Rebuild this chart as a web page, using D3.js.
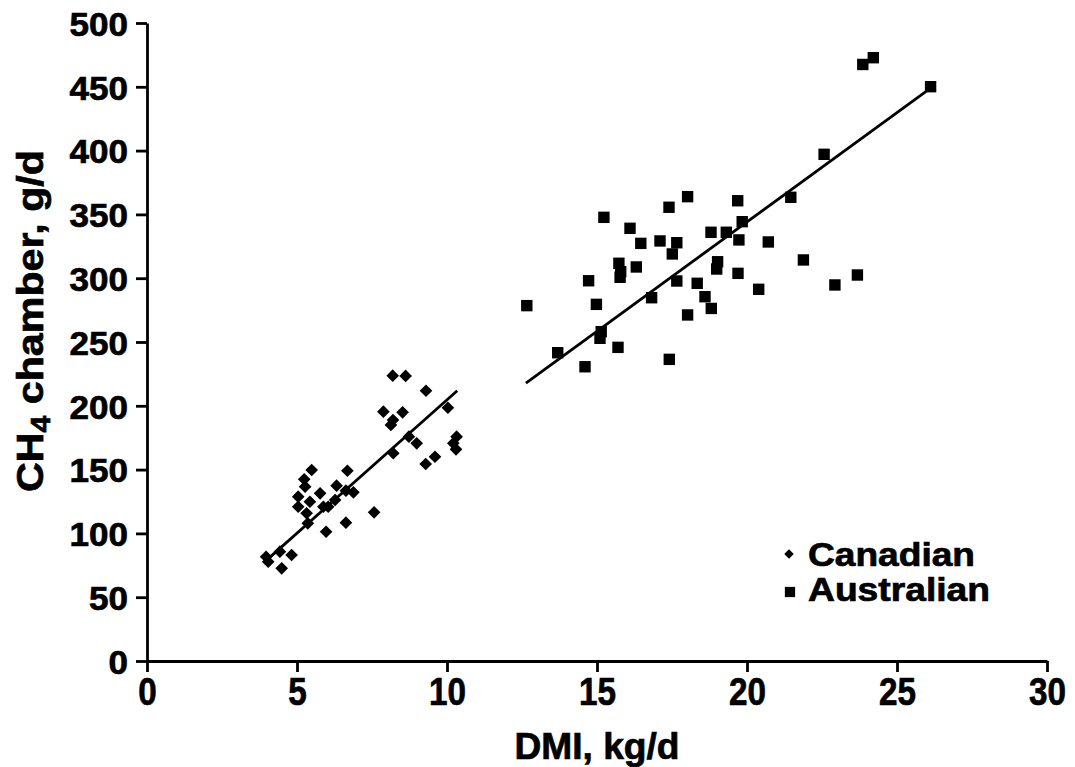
<!DOCTYPE html>
<html>
<head>
<meta charset="utf-8">
<script src="https://cdn.jsdelivr.net/npm/d3@7"></script>
<style>
  body { margin: 0; background: #fff; }
  svg text { font-family: "Liberation Sans", Arial, sans-serif; font-weight: bold; fill: #000; stroke: #000; stroke-width: 0.7px; }
</style>
</head>
<body>
<script>
// Canadian cattle: DMI (kg/d), CH4 (g/d)
var canDMI = [8.19, 8.62, 9.30, 10.03, 7.88, 8.52, 8.20, 8.13, 8.73, 8.99, 10.32, 10.21, 10.30, 8.21, 9.60, 9.29,
  5.49, 6.68, 5.24, 5.27, 6.32, 5.77, 5.04, 6.63, 6.88, 5.43, 6.27, 5.88, 6.04, 5.04, 5.32, 5.36, 7.57, 6.63, 5.97,
  4.43, 4.82, 3.97, 4.04, 4.49];
var canCH4 = [223.6, 223.4, 211.8, 198.5, 195.4, 194.9, 188.9, 185.0, 175.8, 170.6, 175.8, 170.6, 165.9, 162.8, 160.1, 154.4,
  149.7, 149.1, 142.4, 136.6, 137.4, 131.4, 128.8, 133.5, 132.2, 124.8, 126.2, 120.9, 120.9, 120.9, 115.8, 107.9, 116.5, 108.4, 101.3,
  85.7, 83.1, 81.7, 77.8, 72.6];

// Australian cattle
var ausDMI = [12.66, 15.23, 16.10, 16.46, 17.10, 17.40, 18.02, 17.66, 17.51, 15.73, 15.79, 15.77, 16.31, 14.72, 14.98,
  16.82, 17.66, 18.34, 18.60, 18.81, 18.02, 18.80, 19.31, 19.69, 19.84, 19.73, 19.02, 18.99, 19.70, 20.71, 20.39,
  21.46, 15.14, 15.10, 13.69, 14.60, 15.70, 17.41, 21.88, 24.21, 23.86, 26.12, 22.57, 23.68, 22.93];
var ausCH4 = [278.5, 347.7, 339.1, 327.3, 329.2, 355.6, 363.9, 327.8, 319.0, 311.7, 305.1, 300.7, 308.8, 298.0, 279.5,
  284.7, 297.8, 296.0, 285.5, 276.3, 271.2, 336.0, 336.0, 360.7, 344.3, 330.0, 312.9, 307.2, 303.8, 328.4, 291.3,
  363.4, 258.1, 252.9, 241.6, 230.6, 245.8, 236.4, 314.3, 472.8, 467.5, 450.1, 397.1, 302.5, 294.7];

// linear fits [slope, intercept, xmin, xmax]
var canFit = [20.9, -4.3, 3.99, 10.34];
var ausFit = [17.13, 1.5, 12.63, 26.12];

var xTicks = [0, 5, 10, 15, 20, 25, 30];
var yTicks = [0, 50, 100, 150, 200, 250, 300, 350, 400, 450, 500];
var seriesNames = ["Canadian", "Australian"];

var width = 1075,
  height = 767;
var svg = d3.select("body").append("svg").attr("width", width).attr("height", height);

var x = d3.scaleLinear().domain([0, 30]).range([147, 1047]);
var y = d3.scaleLinear().domain([0, 500]).range([661, 23]);

// axes
var xAxis = svg.append("g")
  .attr("transform", "translate(0," + y(0) + ")")
  .call(d3.axisBottom(x).tickValues(xTicks).tickSize(11).tickSizeOuter(0).tickPadding(6));
var yAxis = svg.append("g")
  .attr("transform", "translate(" + x(0) + ",0)")
  .call(d3.axisLeft(y).tickValues(yTicks).tickSize(11).tickSizeOuter(0).tickPadding(8));

svg.selectAll(".domain, .tick line").attr("stroke", "#000").attr("stroke-width", 2.8);
xAxis.selectAll("text")
  .style("font-size", "38px")
  .attr("textLength", d => String(d).length * 18.5)
  .attr("lengthAdjust", "spacingAndGlyphs");
yAxis.selectAll("text")
  .style("font-size", "34px")
  .attr("dy", "0.36em")
  .attr("textLength", d => String(d).length * 19.5)
  .attr("lengthAdjust", "spacingAndGlyphs");

// axis titles
svg.append("text")
  .attr("x", 597)
  .attr("y", 759)
  .attr("text-anchor", "middle")
  .style("font-size", "36px")
  .attr("textLength", 165)
  .attr("lengthAdjust", "spacingAndGlyphs")
  .text("DMI, kg/d");

var yTitle = svg.append("text")
  .attr("text-anchor", "middle")
  .style("font-size", "37px");
yTitle.append("tspan").text("CH");
yTitle.append("tspan").attr("dy", "0.25em").style("font-size", "27px").text("4");
yTitle.append("tspan").attr("dy", "-0.18em").text(" chamber, g/d");
var natural = yTitle.node().getComputedTextLength();
yTitle.attr("transform", "translate(43,321) rotate(-90) scale(" + 342 / natural + ",1)");

// regression lines
[canFit, ausFit].forEach(f => {
  svg.append("line")
    .attr("x1", x(f[2]))
    .attr("y1", y(f[0] * f[2] + f[1]))
    .attr("x2", x(f[3]))
    .attr("y2", y(f[0] * f[3] + f[1]))
    .attr("stroke", "#000")
    .attr("stroke-width", 2.8);
});

// points
var diamond = d3.symbol().type(d3.symbolSquare).size(80);
var square = d3.symbol().type(d3.symbolSquare).size(130);

svg.append("g").selectAll("path")
  .data(canDMI.map((d, i) => [d, canCH4[i]]))
  .enter()
  .append("path")
  .attr("d", diamond)
  .attr("transform", d => "translate(" + x(d[0]) + "," + y(d[1]) + ") rotate(45)")
  .attr("fill", "#000");

svg.append("g").selectAll("path")
  .data(ausDMI.map((d, i) => [d, ausCH4[i]]))
  .enter()
  .append("path")
  .attr("d", square)
  .attr("transform", d => "translate(" + x(d[0]) + "," + y(d[1]) + ")")
  .attr("fill", "#000");

// legend
var legend = svg.append("g").attr("transform", "translate(789,554)");
legend.append("path")
  .attr("d", d3.symbol().type(d3.symbolSquare).size(45))
  .attr("transform", "rotate(45)");
legend.append("path")
  .attr("d", d3.symbol().type(d3.symbolSquare).size(105))
  .attr("transform", "translate(1,38)");
legend.selectAll("text")
  .data(seriesNames)
  .enter()
  .append("text")
  .attr("x", 19)
  .attr("y", (d, i) => 12 + i * 35)
  .style("font-size", "33px")
  .attr("textLength", (d, i) => (i === 0 ? 167 : 182))
  .attr("lengthAdjust", "spacingAndGlyphs")
  .text(d => d);
</script>
</body>
</html>
